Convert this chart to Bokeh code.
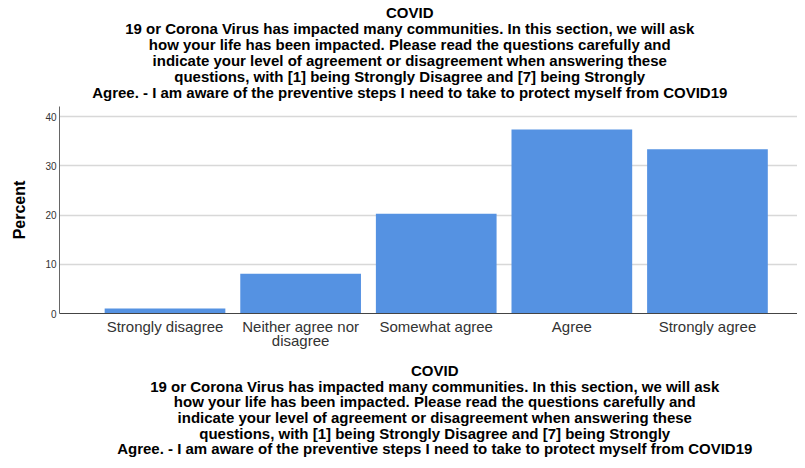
from bokeh.plotting import figure
from bokeh.models import Range1d, FixedTicker, LinearAxis
from bokeh.embed import file_html
from bokeh.resources import INLINE

categories = ["Strongly disagree", "Neither agree nor\ndisagree", "Somewhat agree", "Agree", "Strongly agree"]
positions = [1, 2, 3, 4, 5]
percent = [1.0, 8.1, 20.3, 37.4, 33.4]
y_ticks = [0, 10, 20, 30, 40]

title_lines = ["COVID",
               "19 or Corona Virus has impacted many communities. In this section, we will ask",
               "how your life has been impacted. Please read the questions carefully and",
               "indicate your level of agreement or disagreement when answering these",
               "questions, with [1] being Strongly Disagree and [7] being Strongly",
               "Agree. - I am aware of the preventive steps I need to take to protect myself from COVID19"]

NB = "\u00a0"
# non-breaking spaces only nudge the centred block sideways
top_text = "\n".join(line + NB * 9 for line in title_lines)
bottom_text = "\n".join(NB * 3 + line for line in title_lines)

FONT = "Liberation Sans"

p = figure(width=797, height=460, output_backend="svg", toolbar_location=None,
           x_range=Range1d(0.222, 5.664), y_range=Range1d(0, 42.1),
           min_border_left=59, min_border_right=0, min_border_top=0, min_border_bottom=0)

p.vbar(x=positions, top=percent, width=0.89, bottom=0, fill_color="#5592E2", line_color=None)

top_axis = LinearAxis(ticker=FixedTicker(ticks=[]), axis_line_color=None,
                      major_tick_line_color=None, minor_tick_line_color=None,
                      major_tick_out=0, major_tick_in=0, major_label_standoff=0,
                      axis_label=top_text, axis_label_text_font=FONT,
                      axis_label_text_font_size="15px", axis_label_text_font_style="bold",
                      axis_label_text_color="#000000", axis_label_text_line_height=0.94,
                      axis_label_standoff=6)
p.add_layout(top_axis, "above")

xa = p.below[0]
xa.ticker = FixedTicker(ticks=positions)
xa.major_label_overrides = {pos: cat for pos, cat in zip(positions, categories)}
xa.major_label_text_font = FONT
xa.major_label_text_font_size = "15px"
xa.major_label_text_color = "#333333"
xa.major_label_text_line_height = 0.85
xa.major_label_standoff = 4
xa.major_tick_out = 0
xa.major_tick_in = 0
xa.major_tick_line_color = None
xa.minor_tick_line_color = None
xa.axis_line_color = "#444444"
xa.axis_line_width = 1.2
xa.axis_label = bottom_text
xa.axis_label_text_font = FONT
xa.axis_label_text_font_size = "15px"
xa.axis_label_text_font_style = "bold"
xa.axis_label_text_color = "#000000"
xa.axis_label_text_line_height = 0.92
xa.axis_label_standoff = 10

ya = p.left[0]
ya.ticker = FixedTicker(ticks=y_ticks)
ya.major_label_text_font = FONT
ya.major_label_text_font_size = "10px"
ya.major_label_text_color = "#333333"
ya.major_label_standoff = 3
ya.major_tick_out = 0
ya.major_tick_in = 0
ya.major_tick_line_color = None
ya.minor_tick_line_color = None
ya.axis_line_color = "#666666"
ya.axis_label = "Percent"
ya.axis_label_text_font = FONT
ya.axis_label_text_font_size = "16px"
ya.axis_label_text_font_style = "bold"
ya.axis_label_text_color = "#000000"
ya.axis_label_standoff = 14

p.xgrid.grid_line_color = None
p.ygrid.grid_line_color = "#d8d8d8"
p.ygrid.grid_line_width = 1.5
p.outline_line_color = None
p.background_fill_color = "white"
p.border_fill_color = "white"

open("out.html", "w").write(file_html(p, INLINE))
